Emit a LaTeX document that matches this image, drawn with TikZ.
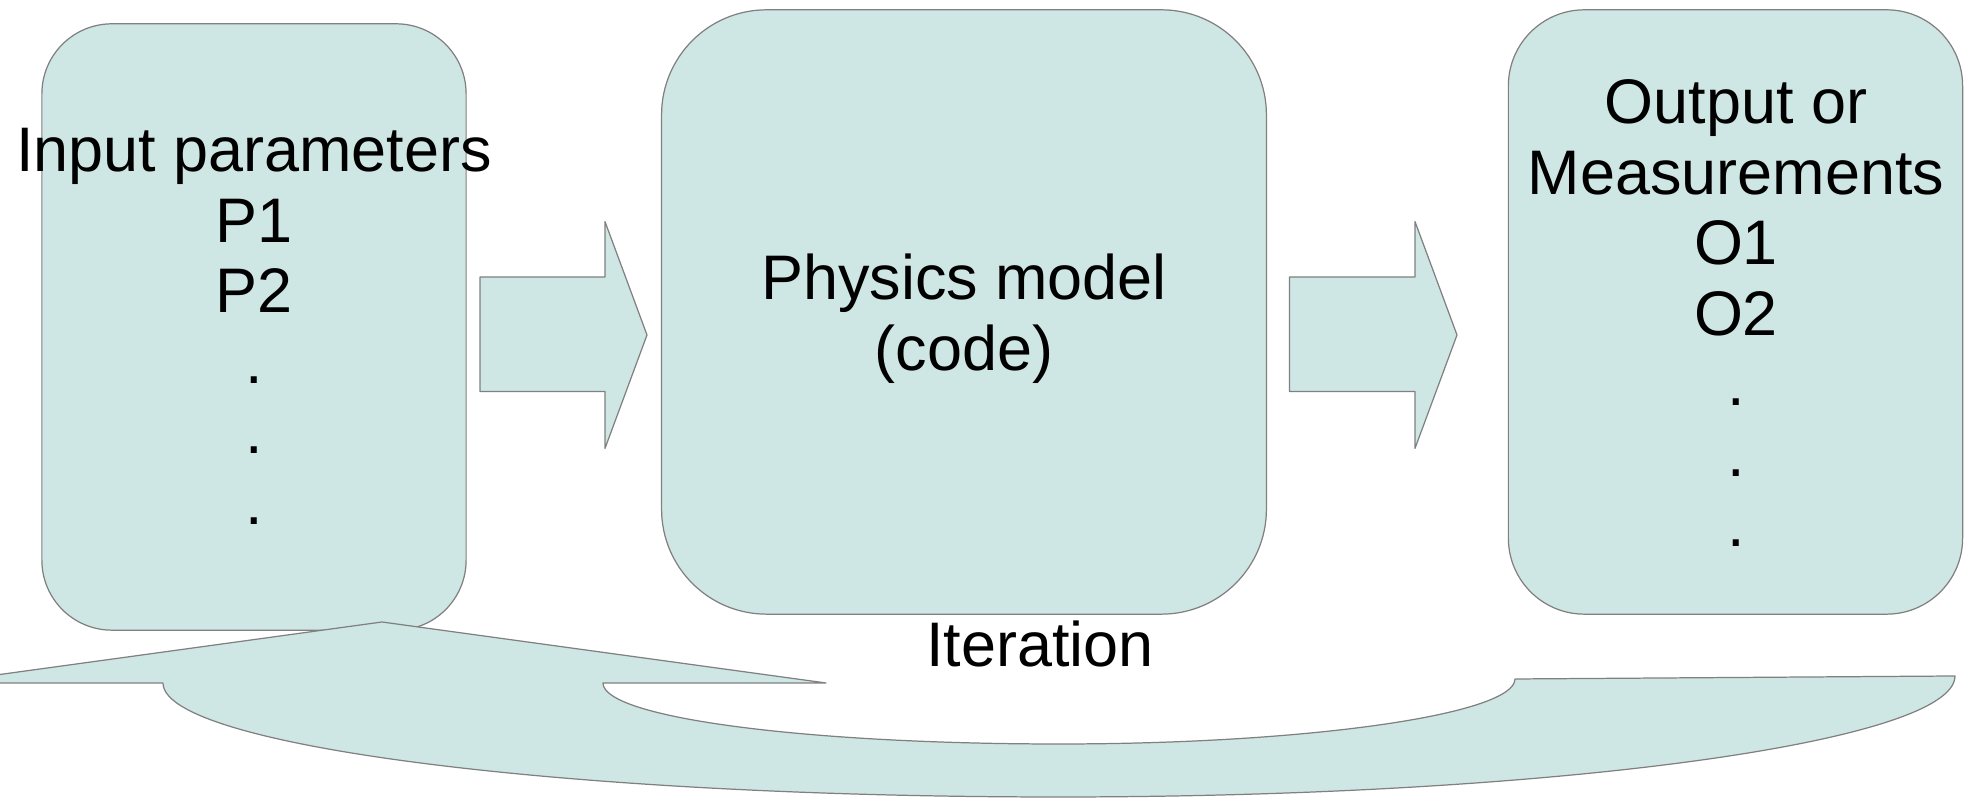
\documentclass[tikz,border=0pt]{standalone}
\usepackage{fontspec}
\setmainfont{Liberation Sans}
\definecolor{boxfill}{RGB}{207,231,228}
\definecolor{boxline}{RGB}{128,128,128}
\begin{document}
\begin{tikzpicture}[x=0.01cm,y=-0.01cm,
  shapefill/.style={fill=boxfill,draw=boxline,line width=0.35pt,line join=round},
  roundbox/.style={shapefill,rectangle,inner sep=0pt},
  lbl/.style={inner sep=0pt,align=center,anchor=north,
    font=\fontsize{17.9}{20.06}\selectfont}]
\useasboundingbox (0,0) rectangle (1974,801);
\clip (0,0) rectangle (1974,801);

% boxes
\node[roundbox,rounded corners=0.7cm,minimum width=4.24cm,minimum height=6.06cm] (in) at (254,327) {};
\node[roundbox,rounded corners=1.05cm,minimum width=6.045cm,minimum height=6.04cm] (model) at (964,312) {};
\node[roundbox,rounded corners=0.76cm,minimum width=4.54cm,minimum height=6.04cm] (out) at (1735.5,312) {};

% block arrows
\draw[shapefill] (480,277) -- (605,277) -- (605,221.6) -- (647,335) -- (605,448.4)
  -- (605,391.5) -- (480,391.5) -- cycle;
\draw[shapefill] (1289.5,277) -- (1415,277) -- (1415,221.6) -- (1457,335) -- (1415,448.4)
  -- (1415,391.5) -- (1289.5,391.5) -- cycle;

% iteration U-turn arrow
\draw[shapefill] (382,622) -- (826,683) -- (603,683)
  .. controls (603,718) and (807,744) .. (1059,744)
  .. controls (1311,744) and (1515,714) .. (1515,679)
  -- (1955,676)
  .. controls (1955,742) and (1554,797) .. (1059,797)
  .. controls (564,797) and (163,746) .. (163,683)
  -- (-62,683) -- cycle;

% labels
\node[lbl] (inlbl) at (254,121) {\rule{0pt}{0.5cm}Input parameters\\P1\\P2\\.\\.\\.};
\node[lbl] (modellbl) at (964,249) {\rule{0pt}{0.5cm}Physics model\\(code)};
\node[lbl] (outlbl) at (1736,73) {\rule{0pt}{0.5cm}Output or\\Measurements\\O1\\O2\\.\\.\\.};
\node[lbl] (iterlbl) at (1040,616) {\rule{0pt}{0.5cm}Iteration};
\end{tikzpicture}
\end{document}
